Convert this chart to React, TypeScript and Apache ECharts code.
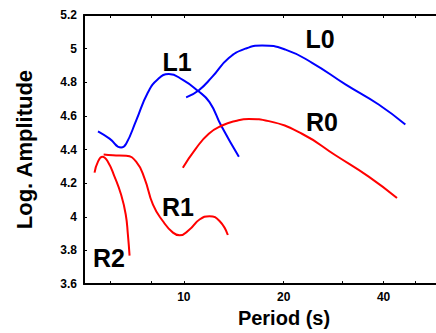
import React, { useEffect, useRef } from "react";
import * as echarts from "echarts";

const L0_period = [10.16, 11.1, 12.17, 13.66, 15.34, 17.21, 20.25, 24.35, 30.69, 38.66, 46.52];
const L0_amp = [4.71, 4.753, 4.832, 4.944, 5.0, 5.019, 4.994, 4.916, 4.788, 4.668, 4.549];

const L1_period = [5.51, 5.97, 6.47, 6.7, 7.18, 7.79, 8.35, 9.01, 9.93, 11.02, 11.95, 12.95, 14.65];
const L1_amp = [4.508, 4.465, 4.412, 4.435, 4.572, 4.739, 4.818, 4.849, 4.814, 4.749, 4.682, 4.543, 4.357];

const R0_period = [9.93, 10.84, 11.89, 13.04, 14.31, 15.7, 18.03, 22.7, 28.64, 36.07, 43.9];
const R0_amp = [4.292, 4.403, 4.494, 4.543, 4.57, 4.582, 4.569, 4.494, 4.366, 4.239, 4.112];

const R1_period = [5.73, 6.11, 6.7, 7.18, 7.61, 8.07, 8.64, 9.27, 9.71, 10.4, 11.15, 11.95, 12.81, 13.57];
const R1_amp = [4.371, 4.366, 4.363, 4.328, 4.229, 4.072, 3.975, 3.906, 3.89, 3.925, 3.984, 4.004, 3.975, 3.892];

const R2_period = [5.38, 5.51, 5.68, 5.9, 6.18, 6.47, 6.68, 6.78, 6.86];
const R2_amp = [4.263, 4.328, 4.357, 4.328, 4.239, 4.131, 4.014, 3.896, 3.769];

const xTickValues = [6, 8, 10, 20, 30, 40, 50];
const xLabelValues = [10, 20, 40];

const FONT = "'Liberation Sans', Arial, sans-serif";

function pairs(xs: number[], ys: number[]) {
  return xs.map((x, i) => [x, ys[i]]);
}

export default function App() {
  const ref = useRef<HTMLDivElement>(null);
  useEffect(() => {
    if (!ref.current) return;
    const chart = echarts.init(ref.current, null, { renderer: "svg" });
    const axisLine = { show: true, lineStyle: { color: "#000", width: 2 } };
    const lineSeries = (name: string, xs: number[], ys: number[], color: string) => ({
      name,
      type: "line",
      data: pairs(xs, ys),
      smooth: 0.5,
      showSymbol: false,
      symbol: "none",
      lineStyle: { color, width: 2 },
      xAxisIndex: 0,
      yAxisIndex: 0,
    });
    const curveLabel = (text: string, x: number, y: number) => ({
      type: "text",
      x,
      y,
      style: {
        text,
        font: `bold 25px ${FONT}`,
        fill: "#000",
        textAlign: "center",
        textVerticalAlign: "middle",
      },
    });
    chart.setOption({
      animation: false,
      backgroundColor: "#fff",
      grid: { left: 84, top: 15, bottom: 46, right: 18 },
      xAxis: [
        {
          type: "log",
          logBase: 10,
          min: 5,
          max: 60,
          position: "bottom",
          name: "Period (s)",
          nameLocation: "middle",
          nameGap: 23,
          nameTextStyle: { fontFamily: FONT, fontWeight: "bold", fontSize: 20, color: "#000", padding: [0, 0, 0, 42] },
          axisLine,
          axisTick: { show: true, inside: true, length: 3, customValues: xTickValues, lineStyle: { color: "#000", width: 1 } },
          axisLabel: {
            show: true,
            customValues: xLabelValues,
            formatter: (v: number) => String(Math.round(v)),
            fontFamily: FONT,
            fontWeight: "bold",
            fontSize: 12,
            color: "#000",
            margin: 7,
          },
          splitLine: { show: false },
          minorTick: { show: false },
        },
        {
          type: "log",
          logBase: 10,
          min: 5,
          max: 60,
          position: "top",
          axisLine,
          axisTick: { show: true, inside: true, length: 3, customValues: xTickValues, lineStyle: { color: "#000", width: 1 } },
          axisLabel: { show: false },
          splitLine: { show: false },
        },
      ],
      yAxis: [
        {
          type: "value",
          min: 3.6,
          max: 5.2,
          interval: 0.2,
          name: "Log. Amplitude",
          nameLocation: "middle",
          nameGap: 49,
          nameTextStyle: { fontFamily: FONT, fontWeight: "bold", fontSize: 22, color: "#000" },
          axisLine,
          axisTick: { show: true, inside: true, length: 3, lineStyle: { color: "#000", width: 1 } },
          axisLabel: {
            fontFamily: FONT,
            fontWeight: "bold",
            fontSize: 12,
            color: "#000",
            margin: 7,
            formatter: (v: number) => String(Math.round(v * 10) / 10),
          },
          splitLine: { show: false },
        },
      ],
      series: [
        lineSeries("L0", L0_period, L0_amp, "#0000ff"),
        lineSeries("L1", L1_period, L1_amp, "#0000ff"),
        lineSeries("R0", R0_period, R0_amp, "#ff0000"),
        lineSeries("R1", R1_period, R1_amp, "#ff0000"),
        lineSeries("R2", R2_period, R2_amp, "#ff0000"),
      ],
      graphic: [
        curveLabel("L0", 320, 39),
        curveLabel("L1", 177, 62),
        curveLabel("R0", 322, 122),
        curveLabel("R1", 178, 207),
        curveLabel("R2", 109, 258),
      ],
    });
    return () => chart.dispose();
  }, []);
  return (
    <div style={{ position: "fixed", left: 0, top: 0, width: 436, height: 333, overflow: "hidden", background: "#fff" }}>
      <div ref={ref} style={{ width: 460, height: 333 }} />
    </div>
  );
}
